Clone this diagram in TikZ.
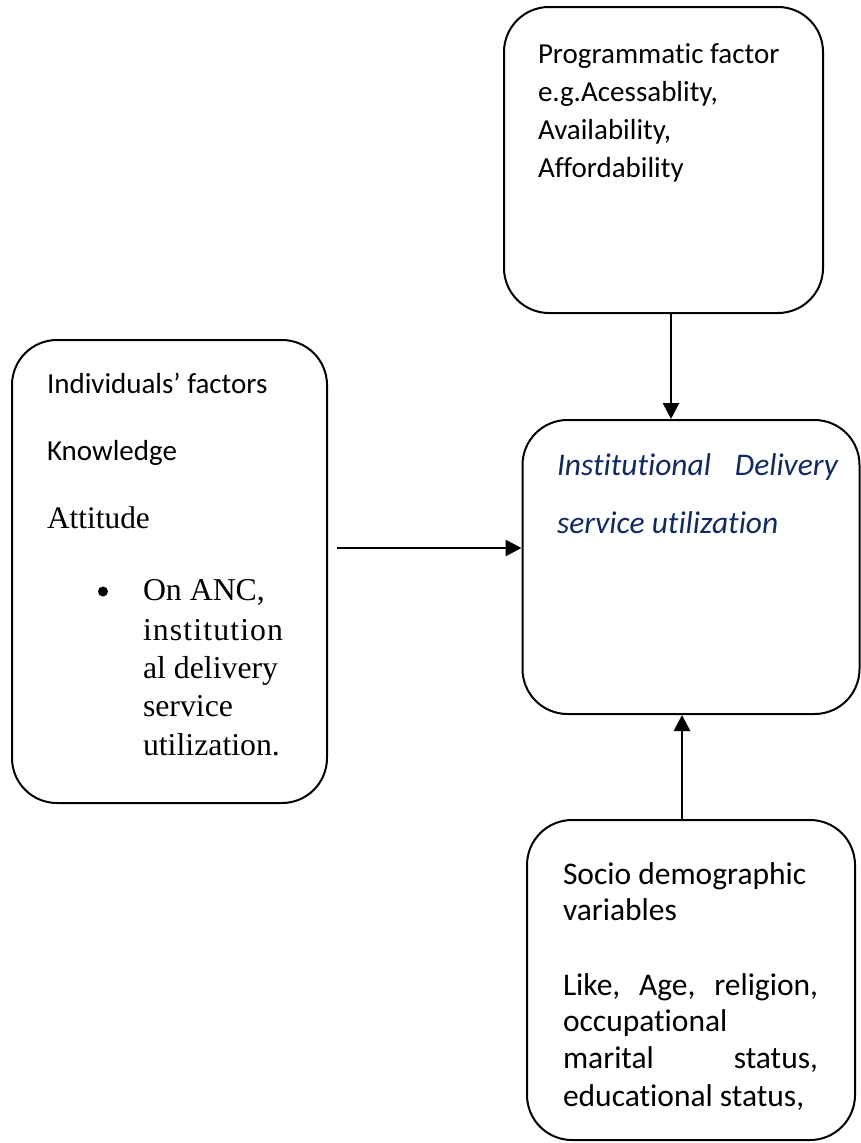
\documentclass[tikz,border=0pt]{standalone}
\usepackage{fontspec}
\setmainfont[Ligatures={NoCommon,NoRare}]{Carlito}
\newfontfamily\timesf{Liberation Serif}
\usetikzlibrary{arrows.meta}
\definecolor{navytext}{RGB}{16,42,104}
\tikzset{
  box/.style={draw=black, line width=2pt, rounded corners=45pt, inner sep=0pt},
  txt/.style={anchor=base west, inner sep=0pt, outer sep=0pt},
  cal/.style={txt, font=\fontsize{29}{35}\selectfont},
  calb/.style={txt, font=\fontsize{31.5}{38}\selectfont},
  tms/.style={txt, font=\timesf\fontsize{31.4}{38}\selectfont},
  tmsb/.style={txt, font=\timesf\fontsize{31.8}{38}\selectfont},
  arr/.style={line width=2.8pt, -{Triangle[length=16pt,width=16pt]}}
}
\begin{document}
\begin{tikzpicture}[x=1pt,y=-1pt]
\useasboundingbox (0,0) rectangle (861,1143);
% boxes
\node[box, minimum width=319pt, minimum height=306pt] (top) at (663.5,160) {};
\node[box, minimum width=315pt, minimum height=463pt] (left) at (169.5,571.5) {};
\node[box, minimum width=337pt, minimum height=294pt] (cen) at (691,567) {};
\node[box, minimum width=328pt, minimum height=320pt] (bot) at (691,980) {};
% top box text
\node[cal] (t1) at (538,63.3) {Programmatic factor};
\node[cal] (t2) at (538,101.3) {e.g.Acessablity,};
\node[cal] (t3) at (538,139.3) {Availability,};
\node[cal] (t4) at (538,177) {Affordability};
% left box text
\node[cal] (l1) at (47,393.3) {Individuals’ factors};
\node[cal] (l2) at (47,460) {Knowledge};
\node[tms] (l3) at (47,528.3) {Attitude};
\node[circle, fill=black, inner sep=0pt, minimum size=10pt] (bul) at (103,591.5) {};
\node[tmsb] (l4) at (143,600) {On ANC,};
\node[tmsb] (l5) at (143,640) {\addfontfeature{LetterSpace=3.5}institution};
\node[tmsb] (l6) at (143,678) {al delivery};
\node[tmsb] (l7) at (143,716.5) {service};
\node[tmsb] (l8) at (143,755) {utilization.};
% center box text
\node[calb, text=navytext, font=\fontsize{31.5}{38}\selectfont\itshape] (c1) at (557,475) {\makebox[281pt][s]{Institutional Delivery}};
\node[calb, text=navytext, font=\fontsize{31.5}{38}\selectfont\itshape] (c2) at (557,533.3) {service utilization};
% bottom box text
\node[calb] (b1) at (563,884) {Socio demographic};
\node[calb] (b2) at (563,920.5) {variables};
\node[calb] (b3) at (563,995) {\makebox[255pt][s]{Like, Age, religion,}};
\node[calb] (b4) at (563,1031) {occupational};
\node[calb] (b5) at (563,1068.5) {\makebox[255pt][s]{marital status,}};
\node[calb] (b6) at (563,1106.5) {educational status,};
% connectors
\coordinate (xa) at (671,0);
\coordinate (xb) at (682,0);
\coordinate (ls) at (337,548);
\draw[arr] (top.south -| xa) -- (cen.north -| xa);
\draw[arr] (ls) -- (ls -| cen.west);
\draw[arr] (bot.north -| xb) -- (cen.south -| xb);
\end{tikzpicture}
\end{document}
